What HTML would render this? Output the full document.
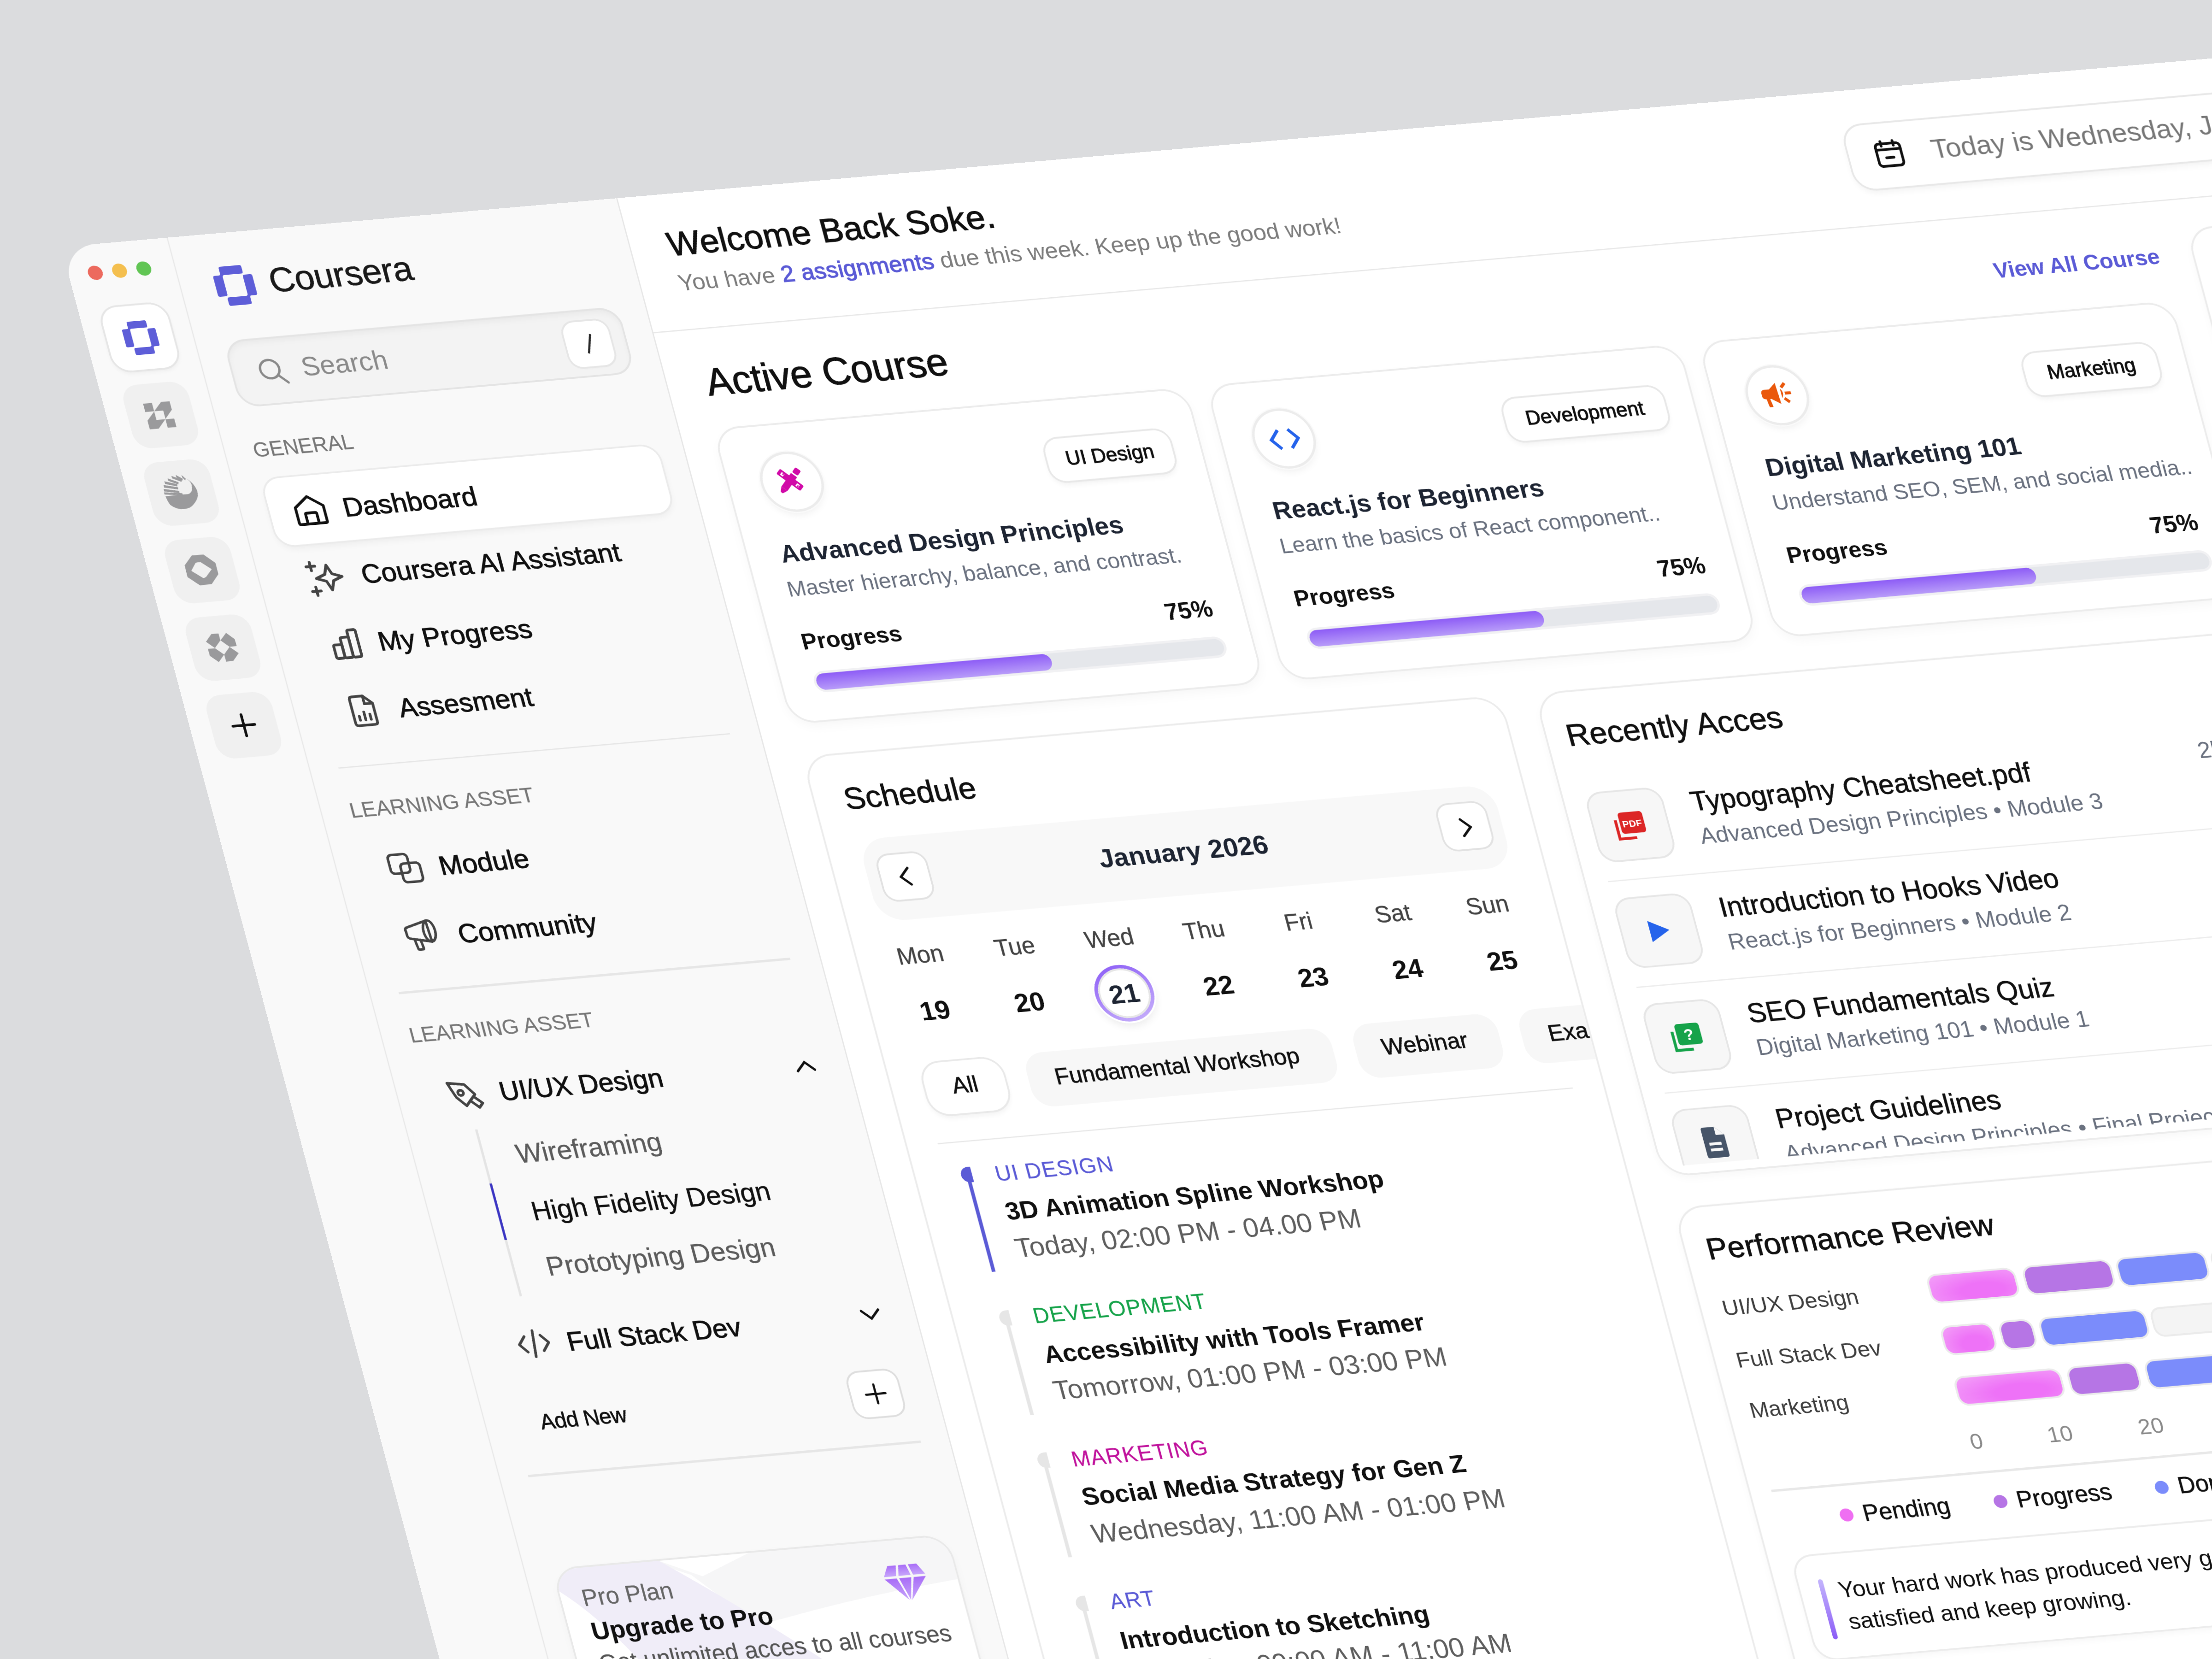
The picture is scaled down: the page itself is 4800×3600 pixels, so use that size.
<!DOCTYPE html>
<html><head><meta charset="utf-8"><title>Coursera Dashboard</title>
<style>
html,body{margin:0;padding:0;}
body{width:4800px;height:3600px;overflow:hidden;background:#dbdcde;font-family:"Liberation Sans",sans-serif;position:relative;}
#win{position:absolute;left:0;top:0;width:1900px;height:1400px;background:#f9f9f9;border-radius:28px;overflow:hidden;will-change:transform;transform-origin:0 0;transform:matrix(2.6299152,-0.2306568,0.6833112,2.5500288,132.6,535.9);}
.a{position:absolute;}
.t{position:absolute;line-height:1;white-space:nowrap;}
svg{overflow:visible;}
</style></head><body>
<div id="win">
<div class="a" style="left:458.0px;top:0.0px;width:1442.0px;height:1400.0px;background:#ffffff;"></div>
<div class="a" style="left:86.5px;top:0.0px;width:1.5px;height:1400.0px;background:#e9e9e9;"></div>
<div class="a" style="left:457.5px;top:0.0px;width:1.5px;height:1400.0px;background:#e6e6e6;"></div>
<div class="a" style="left:16.3px;top:17.9px;width:12.2px;height:12.2px;background:#ec6a5e;border-radius:50%;"></div>
<div class="a" style="left:36.3px;top:17.9px;width:12.2px;height:12.2px;background:#f4bf4f;border-radius:50%;"></div>
<div class="a" style="left:56.3px;top:17.9px;width:12.2px;height:12.2px;background:#61c554;border-radius:50%;"></div>
<div class="a" style="left:17.0px;top:54.0px;width:54.0px;height:54.0px;background:#ffffff;border-radius:14px;box-shadow:0 0 0 1.5px #e6e6e6,0 2px 4px rgba(0,0,0,0.06);"></div>
<div class="a" style="left:17.0px;top:120.0px;width:54.0px;height:54.0px;background:#f0f0f0;border-radius:14px;"></div>
<div class="a" style="left:17.0px;top:186.0px;width:54.0px;height:54.0px;background:#f0f0f0;border-radius:14px;"></div>
<div class="a" style="left:17.0px;top:252.0px;width:54.0px;height:54.0px;background:#f0f0f0;border-radius:14px;"></div>
<div class="a" style="left:17.0px;top:318.0px;width:54.0px;height:54.0px;background:#f0f0f0;border-radius:14px;"></div>
<div class="a" style="left:17.0px;top:384.0px;width:54.0px;height:54.0px;background:#f0f0f0;border-radius:14px;"></div>
<svg class="a" style="left:30.8px;top:66.8px" width="27.3" height="28.5" viewBox="0 0 32 33.4"><g fill="#5e5ed8"><path d="M6.3 1.6 Q6.3 0 7.9 0 L23.4 0 Q25 0 25 1.6 L25 5.6 Q25 7.2 23.4 7.2 L9.6 7.2 Q7.8 7.2 7.8 9 L7.8 23.4 Q7.8 25 6.2 25 L1.6 25 Q0 25 0 23.4 L0 8.8 Q0 7.2 1.6 7.2 L5 7.2 Q6.3 7.2 6.3 5.9 Z"/><path d="M6.3 1.6 Q6.3 0 7.9 0 L23.4 0 Q25 0 25 1.6 L25 5.6 Q25 7.2 23.4 7.2 L9.6 7.2 Q7.8 7.2 7.8 9 L7.8 23.4 Q7.8 25 6.2 25 L1.6 25 Q0 25 0 23.4 L0 8.8 Q0 7.2 1.6 7.2 L5 7.2 Q6.3 7.2 6.3 5.9 Z" transform="rotate(180 16 16.7)"/></g></svg>
<svg class="a" style="left:30.0px;top:133.0px" width="28.0" height="28.0" viewBox="0 0 28 28"><g fill="#9a9a9c"><polygon points="2.2,3.3 9.5,3.3 9.5,10.4 2.2,10.4"/><polygon points="9.6,10.4 17,3.2 24.1,3.2 24.1,10.4 17,17.6 17,10.5"/><polygon points="9.5,10.6 9.5,17.8 16.8,17.9 9.5,25.1 2.1,25.1 2.1,17.8"/><polygon points="16.9,17.9 24.1,17.9 24.1,25.1 16.9,25.1"/></g></svg>
<svg class="a" style="left:30.0px;top:199.0px" width="28.0" height="28.0" viewBox="0 0 28 28"><g fill="#9a9a9c"><path d="M0.3 15.9 Q0.8 21 2.4 23.5 Q6 27.5 12 27.9 Q18 28 21.4 24.5 Q25 21.5 26.5 17.9 Q27.5 14 26.4 10.8 Q25 6 21.2 2.9 Q24.5 6.5 23.7 9.1 Q23.5 12 22.1 14 Q20.5 15.6 18.9 15.8 L14.1 15.7 Z"/><polygon points="1.1,6.4 12.4,9.3 12,11.1 1.1,8.6"/><polygon points="0.3,9.6 12.6,12.5 12.2,14.3 0.3,11.8"/><polygon points="2.6,3.4 12.5,6.7 11.9,8.6 2.6,5.6"/><polygon points="5.9,1.2 13.9,5.2 13.2,7 5.9,3.3"/><polygon points="9.5,-0.6 17.1,3.4 16.3,5.1 9.5,1.5"/><polygon points="13.1,-1.1 18.1,2.6 17.2,4.1 13.1,1.1"/><polygon points="17.8,-0.7 20.4,2.8 19.6,4.2 17.8,1.3"/><polygon points="-0.1,12.6 14.5,14.5 14.5,16.3 -0.1,14.4"/></g></svg>
<svg class="a" style="left:30.0px;top:265.0px" width="28.0" height="28.0" viewBox="0 0 28 28"><path fill="#9a9a9c" fill-rule="evenodd" d="M8.7 1 L18.3 1.1 L26.2 9 L26.1 18.5 L18.6 26.3 L8.9 26.5 L0.6 18.7 L0.8 8.8 Z M10.1 7.5 Q12 6.8 14.3 7.2 L21.8 13.9 L15.9 19.7 Q14.5 20.8 12.9 20.5 L5 13.8 Z"/></svg>
<svg class="a" style="left:30.0px;top:331.0px" width="28.0" height="28.0" viewBox="0 0 28 28"><g fill="#9a9a9c"><polygon points="1.5,7.8 7.5,1.8 13.4,1.9 13.4,7.7 7.4,13.7"/><polygon points="13.5,7.7 19.6,1.9 25.2,7.7 25.4,13.6 19.4,13.7"/><polygon points="19.4,13.8 25.4,19.7 19.4,25.7 13.5,25.8 13.4,19.8"/><polygon points="7.4,13.9 13.4,19.8 7.5,25.6 1.6,19.9 1.5,13.9"/></g></svg>
<svg class="a" style="left:30.0px;top:397.0px" width="28.0" height="28.0" viewBox="0 0 28 28"><g stroke="#111" stroke-width="2.2" stroke-linecap="round"><line x1="14" y1="5" x2="14" y2="23"/><line x1="5" y1="14" x2="23" y2="14"/></g></svg>
<svg class="a" style="left:116.0px;top:28.0px" width="32.0" height="33.4" viewBox="0 0 32 33.4"><g fill="#5e5ed8"><path d="M6.3 1.6 Q6.3 0 7.9 0 L23.4 0 Q25 0 25 1.6 L25 5.6 Q25 7.2 23.4 7.2 L9.6 7.2 Q7.8 7.2 7.8 9 L7.8 23.4 Q7.8 25 6.2 25 L1.6 25 Q0 25 0 23.4 L0 8.8 Q0 7.2 1.6 7.2 L5 7.2 Q6.3 7.2 6.3 5.9 Z"/><path d="M6.3 1.6 Q6.3 0 7.9 0 L23.4 0 Q25 0 25 1.6 L25 5.6 Q25 7.2 23.4 7.2 L9.6 7.2 Q7.8 7.2 7.8 9 L7.8 23.4 Q7.8 25 6.2 25 L1.6 25 Q0 25 0 23.4 L0 8.8 Q0 7.2 1.6 7.2 L5 7.2 Q6.3 7.2 6.3 5.9 Z" transform="rotate(180 16 16.7)"/></g></svg>
<div class="t " style="left:160.5px;top:28.5px;font-size:29px;color:#1a1a1a;-webkit-text-stroke:0.3px #1a1a1a;letter-spacing:-0.2px;">Coursera</div>
<div class="a" style="left:110.0px;top:90.0px;width:325.6px;height:57.0px;background:#f3f3f3;border-radius:17px;box-shadow:inset 0 0 0 1.5px #e4e4e4, inset 0 3px 6px rgba(0,0,0,0.05);"></div>
<svg class="a" style="left:131.2px;top:105.5px" width="25.9" height="25.9" viewBox="0 0 24 24"><g fill="none" stroke="#8a8a8a" stroke-width="1.8"><circle cx="10" cy="10" r="7.2"/><line x1="15.3" y1="15.3" x2="21.5" y2="21.5" stroke-linecap="round"/></g></svg>
<div class="t " style="left:168.0px;top:107.1px;font-size:22.3px;color:#8a8a8a;">Search</div>
<div class="a" style="left:386.0px;top:100.0px;width:37.0px;height:38.0px;background:#fff;border-radius:10px;box-shadow:0 0 0 1.5px #e6e6e6,0 1px 2px rgba(0,0,0,.05);"></div>
<svg class="a" style="left:398.8px;top:108.5px" width="12.0" height="20.0" viewBox="0 0 12 20"><line x1="8.6" y1="2" x2="3.6" y2="18" stroke="#2a2a2a" stroke-width="1.7"/></svg>
<div class="t " style="left:111.0px;top:174.9px;font-size:17.2px;color:#777;-webkit-text-stroke:0.1px #777;">GENERAL</div>
<div class="a" style="left:111.0px;top:207.5px;width:326.0px;height:57.5px;background:#ffffff;border-radius:14px;box-shadow:0 0 0 1.5px #ebebeb,0 3px 6px rgba(0,0,0,0.05);"></div>
<svg class="a" style="left:129.1px;top:222.1px" width="29.9" height="29.9" viewBox="0 0 26 26"><g fill="none" stroke="#111" stroke-width="2" stroke-linejoin="round"><path d="M3 10.5 L13 3 L23 10.5 L23 22 Q23 23 22 23 L4 23 Q3 23 3 22 Z"/><path d="M9 23 L9 16 Q9 15 10 15 L16 15 Q17 15 17 16 L17 23"/></g></svg>
<div class="t " style="left:171.0px;top:226.5px;font-size:22.5px;color:#111111;-webkit-text-stroke:0.45px #111111;">Dashboard</div>
<svg class="a" style="left:126.1px;top:277.6px" width="32.8" height="32.8" viewBox="0 0 28 28"><g fill="none" stroke="#444" stroke-width="2" stroke-linecap="round" stroke-linejoin="round" stroke-width="1.8"><path d="M16 5 L18.5 11.5 L25 14 L18.5 16.5 L16 23 L13.5 16.5 L7 14 L13.5 11.5 Z"/><path d="M5 2 v6 M2 5 h6 M5 20 v6 M2 23 h6"/></g></svg>
<div class="t " style="left:171.5px;top:283.6px;font-size:22.3px;color:#111111;-webkit-text-stroke:0.45px #111111;">Coursera AI Assistant</div>
<svg class="a" style="left:130.1px;top:336.1px" width="29.9" height="29.9" viewBox="0 0 26 26"><g fill="none" stroke="#444" stroke-width="2" stroke-linecap="round" stroke-linejoin="round" stroke-width="1.8"><rect x="3" y="13" width="6" height="10" rx="1"/><rect x="9" y="8" width="6" height="15" rx="1"/><rect x="15" y="3" width="6" height="20" rx="1"/></g></svg>
<div class="t " style="left:170.5px;top:340.5px;font-size:22.5px;color:#111111;-webkit-text-stroke:0.45px #111111;">My Progress</div>
<svg class="a" style="left:129.4px;top:393.4px" width="29.1" height="29.1" viewBox="0 0 26 26"><g fill="none" stroke="#444" stroke-width="2" stroke-linecap="round" stroke-linejoin="round"><path d="M5 4 Q5 2 7 2 L15 2 L21 8 L21 22 Q21 24 19 24 L7 24 Q5 24 5 22 Z"/><path d="M15 2 L15 8 L21 8"/><path d="M9 20 v-3 M13 20 v-6 M17 20 v-4"/></g></svg>
<div class="t " style="left:172.5px;top:398.3px;font-size:22.3px;color:#111111;-webkit-text-stroke:0.45px #111111;">Assesment</div>
<div class="a" style="left:111.0px;top:452.5px;width:323.0px;height:1.5px;background:#e6e6e6;"></div>
<div class="t " style="left:111.0px;top:481.6px;font-size:17.6px;color:#777;-webkit-text-stroke:0.1px #777;">LEARNING ASSET</div>
<svg class="a" style="left:128.8px;top:527.2px" width="29.7" height="29.7" viewBox="0 0 28 28"><g fill="none" stroke="#444" stroke-width="2" stroke-linecap="round" stroke-linejoin="round"><rect x="2" y="2.5" width="15" height="15" rx="3"/><rect x="10" y="10" width="15" height="15" rx="3"/></g></svg>
<div class="t " style="left:171.0px;top:532.1px;font-size:22.5px;color:#111111;-webkit-text-stroke:0.45px #111111;">Module</div>
<svg class="a" style="left:127.2px;top:583.2px" width="31.5" height="31.5" viewBox="0 0 30 30"><g fill="none" stroke="#444" stroke-width="2" stroke-linecap="round" stroke-linejoin="round"><path d="M3 11 Q2 8 5 7.5 L20 3.5 L21 20.5 L6 17 Q3 16.5 3 14 Z"/><ellipse cx="21" cy="12" rx="4.5" ry="8.5"/><path d="M8 17.5 L9 25 Q9 26 10 26 L12.5 26 Q13.5 26 13.3 25 L12.5 18.5"/></g></svg>
<div class="t " style="left:171.8px;top:589.5px;font-size:22.5px;color:#111111;-webkit-text-stroke:0.45px #111111;">Community</div>
<div class="a" style="left:111.0px;top:644.0px;width:323.0px;height:1.5px;background:#e6e6e6;"></div>
<div class="t " style="left:110.5px;top:672.6px;font-size:17.6px;color:#777;-webkit-text-stroke:0.1px #777;">LEARNING ASSET</div>
<svg class="a" style="left:127.0px;top:719.1px" width="31.4" height="29.1" viewBox="0 0 28 26"><g fill="none" stroke="#444" stroke-width="2" stroke-linecap="round" stroke-linejoin="round"><path d="M3 4 L15 6 L21 14 L13 22 L7 15 Z"/><circle cx="11" cy="12" r="2"/><path d="M17 19 L22 24 L25 21 L20 16"/></g></svg>
<div class="t " style="left:171.0px;top:724.2px;font-size:22.2px;color:#111111;-webkit-text-stroke:0.45px #111111;">UI/UX Design</div>
<svg class="a" style="left:414.0px;top:729.0px" width="18.0" height="12.0" viewBox="0 0 18 12"><path d="M2 10 L9 3 L16 10" fill="none" stroke="#111" stroke-width="2" stroke-linecap="round"/></svg>
<div class="a" style="left:143.2px;top:764.0px;width:1.5px;height:142.0px;background:#e4e4e4;"></div>
<div class="a" style="left:142.8px;top:810.0px;width:2.4px;height:48.0px;background:#3b35c3;"></div>
<div class="t " style="left:171.0px;top:777.4px;font-size:22.2px;color:#5c5c5c;-webkit-text-stroke:0.15px #5c5c5c;">Wireframing</div>
<div class="t " style="left:171.0px;top:825.5px;font-size:22.1px;color:#111111;-webkit-text-stroke:0.25px #111111;">High Fidelity Design</div>
<div class="t " style="left:171.0px;top:873.3px;font-size:22.3px;color:#5c5c5c;-webkit-text-stroke:0.15px #5c5c5c;">Prototyping Design</div>
<svg class="a" style="left:128.6px;top:932.3px" width="30.8" height="28.6" viewBox="0 0 28 26"><g fill="none" stroke="#444" stroke-width="2" stroke-linecap="round" stroke-linejoin="round"><path d="M8 7 L3 13 L8 19 M20 7 L25 13 L20 19 M15 3 L13 23"/></g></svg>
<div class="t " style="left:171.5px;top:936.7px;font-size:22.2px;color:#111111;-webkit-text-stroke:0.45px #111111;">Full Stack Dev</div>
<svg class="a" style="left:413.0px;top:940.0px" width="18.0" height="12.0" viewBox="0 0 18 12"><path d="M2 3 L9 10 L16 3" fill="none" stroke="#111" stroke-width="2" stroke-linecap="round"/></svg>
<div class="t " style="left:132.3px;top:1002.8px;font-size:18px;color:#111111;-webkit-text-stroke:0.3px #111111;letter-spacing:-0.3px;">Add New</div>
<div class="a" style="left:389.0px;top:994.0px;width:40.0px;height:38.0px;background:#fff;border-radius:10px;box-shadow:0 0 0 1.5px #dedede;"></div>
<svg class="a" style="left:399.0px;top:1003.0px" width="20.0" height="20.0" viewBox="0 0 20 20"><g stroke="#111" stroke-width="1.8" stroke-linecap="round"><line x1="10" y1="2" x2="10" y2="18"/><line x1="2" y1="10" x2="18" y2="10"/></g></svg>
<div class="a" style="left:111.0px;top:1055.0px;width:324.0px;height:1.5px;background:#e6e6e6;"></div>
<div class="a" style="left:111px;top:1136px;width:324px;height:220px;border-radius:20px;overflow:hidden;background:#ffffff;box-shadow:0 0 0 1.5px #e9e9e9,0 3px 8px rgba(0,0,0,0.04);"><svg class="a" style="left:0;top:0" width="324" height="220" viewBox="0 0 324 220"><path fill="#f6f6f7" d="M80 0 L324 0 L324 37 Q240 44 154 61 L110 14 Z"/><path fill="#f0edf8" d="M0 0 L87 0 Q145 45 197 93 Q225 125 240 160 L150 220 L90 220 Q60 120 49 80 Q25 40 0 18 Z"/><path fill="#ffffff" d="M87 0 L161 0 L119 16 Z"/></svg></div>
<div class="t " style="left:128.0px;top:1152.0px;font-size:19.5px;color:#666;-webkit-text-stroke:0.1px #666;">Pro Plan</div>
<div class="t " style="left:128.5px;top:1180.3px;font-size:20.7px;color:#111111;font-weight:700;">Upgrade to Pro</div>
<div class="t " style="left:128.0px;top:1207.6px;font-size:19.4px;color:#555;-webkit-text-stroke:0.1px #555;">Get unlimited acces to all courses</div>
<svg class="a" style="left:375.0px;top:1156.0px" width="36.0" height="32.0" viewBox="0 0 36 32"><defs><linearGradient id="dg" x1="0" y1="0" x2="0" y2="1"><stop offset="0" stop-color="#a96df7"/><stop offset="1" stop-color="#c7a6fb"/></linearGradient></defs><g fill="url(#dg)"><polygon points="6,1 13,1 11,10 1,10"/><polygon points="15,1 21,1 23,10 13,10"/><polygon points="23,1 30,1 35,10 25,10"/><polygon points="1,12 11,12 17,31"/><polygon points="13,12 23,12 18,31"/><polygon points="25,12 35,12 19,31"/></g></svg>
<div class="t " style="left:489.5px;top:27.5px;font-size:28.4px;color:#111111;-webkit-text-stroke:0.5px #111111;">Welcome Back Soke.</div>
<div class="t" style="left:490px;top:65.7px;font-size:19.2px;color:#7d7d7d;">You have <span style="color:#5b5bd6;font-size:19.2px;-webkit-text-stroke:0.55px #5b5bd6;letter-spacing:0.15px">2 assignments</span> due this week. Keep up the good work!</div>
<div class="a" style="left:1461.0px;top:30.0px;width:520.0px;height:54.0px;background:#fff;border-radius:16px;box-shadow:0 0 0 1.5px #e8e8e8,0 3px 6px rgba(0,0,0,0.06);"></div>
<svg class="a" style="left:1480.4px;top:42.4px" width="28.0" height="28.0" viewBox="0 0 28 28"><g fill="none" stroke="#111" stroke-width="2.2" stroke-linecap="round" stroke-linejoin="round"><rect x="4" y="5" width="20" height="19" rx="3"/><path d="M4 10 H24 M9 3 v4 M19 3 v4 M11 17 H17"/></g></svg>
<div class="t " style="left:1529.0px;top:44.3px;font-size:22.7px;color:#777;">Today is Wednesday, January 21, 2026</div>
<div class="a" style="left:458.0px;top:113.5px;width:1442.0px;height:1.5px;background:#e8e8e8;"></div>
<div class="t " style="left:490.5px;top:143.9px;font-size:32px;color:#111111;-webkit-text-stroke:0.5px #111111;">Active Course</div>
<div class="t " style="left:1553.0px;top:152.1px;font-size:18.2px;color:#5b5bd6;font-weight:700;">View All Course</div>
<div class="a" style="left:1718.0px;top:141.0px;width:400.0px;height:1400.0px;background:#fff;border-radius:20px;box-shadow:0 0 0 1.5px #ececec,0 3px 8px rgba(0,0,0,0.04);"></div>
<div class="a" style="left:487.0px;top:200.0px;width:388.0px;height:249.0px;background:#fff;border-radius:20px;box-shadow:0 0 0 1.5px #ececec,0 4px 10px rgba(0,0,0,0.04);"></div>
<div class="a" style="left:514.5px;top:225.0px;width:47.0px;height:47.0px;background:#fff;border-radius:50%;box-shadow:0 0 0 2px #ececec,0 0 0 3px #fafafa,0 4px 7px rgba(0,0,0,0.07);"></div>
<svg class="a" style="left:524.0px;top:234.5px" width="28" height="28" viewBox="-14 -14 28 28"><g fill="#d10aa8"><g transform="translate(-0.6 -2.2) rotate(46)"><rect x="-11.2" y="-2.8" width="22.4" height="5.6" rx="1.2"/><rect x="-8.6" y="-1.3" width="2.6" height="2.8" fill="#fff"/><rect x="5.8" y="-1.3" width="2.6" height="2.8" fill="#fff"/><rect x="-7.4" y="-1.3" width="1.1" height="1.6"/><rect x="7" y="-0.3" width="1.1" height="1.6"/></g><g transform="translate(3.55 -5.85) rotate(135)"><rect x="0" y="-2.85" width="15" height="5.7"/><polygon points="15,-2.85 19.3,-1 19.3,1 15,2.85"/><rect x="-6.6" y="-2.6" width="5.3" height="5.2" rx="1.2"/></g></g></svg>
<div class="a" style="left:749.0px;top:231.5px;width:103.0px;height:36.0px;background:#fff;border-radius:12px;box-shadow:0 0 0 1.5px #e8e8e8,0 3px 5px rgba(0,0,0,0.06);"></div>
<div class="t" style="left:650.5px;width:300px;text-align:center;top:241.0px;font-size:16.5px;color:#111;-webkit-text-stroke:0.45px #111;">UI Design</div>
<div class="t " style="left:513.5px;top:297.2px;font-size:21px;color:#1e2533;font-weight:700;">Advanced Design Principles</div>
<div class="t " style="left:511.5px;top:328.5px;font-size:18.3px;color:#6b7280;">Master hierarchy, balance, and contrast.</div>
<div class="t " style="left:511.6px;top:373.4px;font-size:19px;color:#111111;font-weight:700;">Progress</div>
<div class="t" style="right:1050.0px;top:374.5px;font-size:19.5px;color:#111111;font-weight:700;">75%</div>
<div class="a" style="left:515.0px;top:410.0px;width:336.0px;height:14.0px;background:#e5e7eb;border-radius:8px;box-shadow:0 0 0 2px #f1f1f3;"></div>
<div class="a" style="left:515.0px;top:410.0px;width:194.1px;height:14.0px;background:linear-gradient(180deg,#8d5cf6 0%,#b89cf9 100%);border-radius:8px;"></div>
<div class="a" style="left:893.5px;top:200.0px;width:388.0px;height:249.0px;background:#fff;border-radius:20px;box-shadow:0 0 0 1.5px #ececec,0 4px 10px rgba(0,0,0,0.04);"></div>
<div class="a" style="left:921.0px;top:225.0px;width:47.0px;height:47.0px;background:#fff;border-radius:50%;box-shadow:0 0 0 2px #ececec,0 0 0 3px #fafafa,0 4px 7px rgba(0,0,0,0.07);"></div>
<svg class="a" style="left:931.5px;top:237.5px" width="26.0" height="22.0" viewBox="0 0 26 22"><g fill="none" stroke="#2563eb" stroke-width="2.6" stroke-linecap="square"><path d="M8 4 L2 11 L8 18 M18 4 L24 11 L18 18"/></g></svg>
<div class="a" style="left:1126.5px;top:231.5px;width:132.0px;height:36.0px;background:#fff;border-radius:12px;box-shadow:0 0 0 1.5px #e8e8e8,0 3px 5px rgba(0,0,0,0.06);"></div>
<div class="t" style="left:1042.5px;width:300px;text-align:center;top:241.0px;font-size:16.5px;color:#111;-webkit-text-stroke:0.45px #111;">Development</div>
<div class="t " style="left:920.0px;top:297.2px;font-size:21px;color:#1e2533;font-weight:700;">React.js for Beginners</div>
<div class="t " style="left:918.0px;top:328.5px;font-size:18.3px;color:#6b7280;">Learn the basics of React component..</div>
<div class="t " style="left:918.1px;top:373.4px;font-size:19px;color:#111111;font-weight:700;">Progress</div>
<div class="t" style="right:643.5px;top:374.5px;font-size:19.5px;color:#111111;font-weight:700;">75%</div>
<div class="a" style="left:921.5px;top:410.0px;width:336.0px;height:14.0px;background:#e5e7eb;border-radius:8px;box-shadow:0 0 0 2px #f1f1f3;"></div>
<div class="a" style="left:921.5px;top:410.0px;width:193.2px;height:14.0px;background:linear-gradient(180deg,#8d5cf6 0%,#b89cf9 100%);border-radius:8px;"></div>
<div class="a" style="left:1300.0px;top:200.0px;width:388.0px;height:249.0px;background:#fff;border-radius:20px;box-shadow:0 0 0 1.5px #ececec,0 4px 10px rgba(0,0,0,0.04);"></div>
<div class="a" style="left:1327.5px;top:225.0px;width:47.0px;height:47.0px;background:#fff;border-radius:50%;box-shadow:0 0 0 2px #ececec,0 0 0 3px #fafafa,0 4px 7px rgba(0,0,0,0.07);"></div>
<svg class="a" style="left:1337.0px;top:235.5px" width="28.0" height="26.0" viewBox="0 0 28 26"><g fill="#ea580c"><path d="M2 10 Q2 7 5 7 L9 7 L15 2 L16 20 L9 15 L8 15 L9 22 L6 22 L5 15 Q2 15 2 12 Z"/><path d="M18 7 Q21 11 18 15 Z"/><rect x="20" y="2" width="2.5" height="5" transform="rotate(45 21 4)"/><rect x="21" y="10" width="5" height="2.5"/><rect x="20" y="15" width="2.5" height="5" transform="rotate(-45 21 17)"/></g></svg>
<div class="a" style="left:1556.0px;top:231.5px;width:109.0px;height:36.0px;background:#fff;border-radius:12px;box-shadow:0 0 0 1.5px #e8e8e8,0 3px 5px rgba(0,0,0,0.06);"></div>
<div class="t" style="left:1460.5px;width:300px;text-align:center;top:241.0px;font-size:16.5px;color:#111;-webkit-text-stroke:0.45px #111;">Marketing</div>
<div class="t " style="left:1326.5px;top:297.2px;font-size:21px;color:#1e2533;font-weight:700;">Digital Marketing 101</div>
<div class="t " style="left:1324.5px;top:328.5px;font-size:18.3px;color:#6b7280;">Understand SEO, SEM, and social media..</div>
<div class="t " style="left:1324.6px;top:373.4px;font-size:19px;color:#111111;font-weight:700;">Progress</div>
<div class="t" style="right:237.0px;top:374.5px;font-size:19.5px;color:#111111;font-weight:700;">75%</div>
<div class="a" style="left:1328.0px;top:410.0px;width:336.0px;height:14.0px;background:#e5e7eb;border-radius:8px;box-shadow:0 0 0 2px #f1f1f3;"></div>
<div class="a" style="left:1328.0px;top:410.0px;width:193.2px;height:14.0px;background:linear-gradient(180deg,#8d5cf6 0%,#b89cf9 100%);border-radius:8px;"></div>
<div class="a" style="left:488.0px;top:479.0px;width:574.0px;height:1100.0px;background:#fff;border-radius:22px;box-shadow:0 0 0 1.5px #ececec;"></div>
<div class="t " style="left:512.0px;top:503.0px;font-size:26px;color:#111111;-webkit-text-stroke:0.35px #111111;">Schedule</div>
<div class="a" style="left:514.0px;top:550.5px;width:523.0px;height:70.0px;background:#f8f8f8;border-radius:22px;"></div>
<div class="a" style="left:525.0px;top:565.5px;width:39.0px;height:38.0px;background:#fff;border-radius:10px;box-shadow:0 0 0 1.5px #e2e2e2;"></div>
<svg class="a" style="left:536.5px;top:575.5px" width="16.0" height="18.0" viewBox="0 0 16 18"><path d="M11 2 L4 9 L11 16" fill="none" stroke="#111" stroke-width="2" stroke-linecap="round"/></svg>
<div class="a" style="left:987.0px;top:565.0px;width:39.0px;height:38.0px;background:#fff;border-radius:10px;box-shadow:0 0 0 1.5px #e2e2e2;"></div>
<svg class="a" style="left:998.5px;top:575.5px" width="16.0" height="18.0" viewBox="0 0 16 18"><path d="M5 2 L12 9 L5 16" fill="none" stroke="#111" stroke-width="2" stroke-linecap="round"/></svg>
<div class="t" style="left:624.0px;width:300px;text-align:center;top:573.9px;font-size:22px;color:#1e2533;font-weight:700;">January 2026</div>
<div class="t" style="left:389.6px;width:300px;text-align:center;top:641.5px;font-size:19.5px;color:#444;-webkit-text-stroke:0.15px #444;">Mon</div>
<div class="t" style="left:389.6px;width:300px;text-align:center;top:687.9px;font-size:22px;color:#111111;font-weight:700;">19</div>
<div class="t" style="left:467.6px;width:300px;text-align:center;top:641.5px;font-size:19.5px;color:#444;-webkit-text-stroke:0.15px #444;">Tue</div>
<div class="t" style="left:467.6px;width:300px;text-align:center;top:687.9px;font-size:22px;color:#111111;font-weight:700;">20</div>
<div class="t" style="left:545.6px;width:300px;text-align:center;top:641.5px;font-size:19.5px;color:#444;-webkit-text-stroke:0.15px #444;">Wed</div>
<div class="t" style="left:545.6px;width:300px;text-align:center;top:687.9px;font-size:22px;color:#111111;font-weight:700;">21</div>
<div class="t" style="left:623.6px;width:300px;text-align:center;top:641.5px;font-size:19.5px;color:#444;-webkit-text-stroke:0.15px #444;">Thu</div>
<div class="t" style="left:623.6px;width:300px;text-align:center;top:687.9px;font-size:22px;color:#111111;font-weight:700;">22</div>
<div class="t" style="left:701.6px;width:300px;text-align:center;top:641.5px;font-size:19.5px;color:#444;-webkit-text-stroke:0.15px #444;">Fri</div>
<div class="t" style="left:701.6px;width:300px;text-align:center;top:687.9px;font-size:22px;color:#111111;font-weight:700;">23</div>
<div class="t" style="left:779.6px;width:300px;text-align:center;top:641.5px;font-size:19.5px;color:#444;-webkit-text-stroke:0.15px #444;">Sat</div>
<div class="t" style="left:779.6px;width:300px;text-align:center;top:687.9px;font-size:22px;color:#111111;font-weight:700;">24</div>
<div class="t" style="left:857.6px;width:300px;text-align:center;top:641.5px;font-size:19.5px;color:#444;-webkit-text-stroke:0.15px #444;">Sun</div>
<div class="t" style="left:857.6px;width:300px;text-align:center;top:687.9px;font-size:22px;color:#111111;font-weight:700;">25</div>
<div class="a" style="left:671.8px;top:674.0px;width:48.0px;height:48.0px;border-radius:50%;background:linear-gradient(#fff,#fff) padding-box,linear-gradient(160deg,#8b5cf6,#c9b3fb) border-box;border:3px solid transparent;box-sizing:border-box;box-shadow:inset 0 0 0 1.5px #e6e6e6,0 0 0 1.5px #fff,0 4px 7px rgba(0,0,0,0.08);"></div>
<div class="t" style="left:545.8px;width:300px;text-align:center;top:687.9px;font-size:22px;color:#1e2533;font-weight:700;">21</div>
<div class="a" style="left:488px;top:730px;width:574px;height:70px;overflow:hidden;">
<div class="a" style="left:27.0px;top:11px;width:66.0px;height:46px;border-radius:16px;background:#fff;box-shadow:0 0 0 1.5px #e9e9e9,0 3px 5px rgba(0,0,0,0.06);top:12px;height:44px;"></div>
<div class="a" style="left:112.0px;top:11px;width:252.0px;height:46px;border-radius:16px;background:#f7f7f7;"></div>
<div class="a" style="left:382.0px;top:11px;width:119.0px;height:46px;border-radius:16px;background:#f7f7f7;"></div>
<div class="a" style="left:519.0px;top:11px;width:130.0px;height:46px;border-radius:16px;background:#f7f7f7;"></div>
<div class="t" style="left:49.0px;top:22.9px;font-size:19px;color:#111;-webkit-text-stroke:0.3px #111;">All</div>
<div class="t" style="left:134.0px;top:23.4px;font-size:19px;color:#111;-webkit-text-stroke:0.3px #111;">Fundamental Workshop</div>
<div class="t" style="left:404.0px;top:22.3px;font-size:19px;color:#111;-webkit-text-stroke:0.3px #111;">Webinar</div>
<div class="t" style="left:541.0px;top:23.3px;font-size:19px;color:#111;-webkit-text-stroke:0.3px #111;">Exam</div>
</div>
<div class="a" style="left:513.0px;top:808.5px;width:524.0px;height:1.5px;background:#e8e8e8;"></div>
<div class="a" style="left:528.5px;top:836.0px;width:3.5px;height:84.0px;background:#5b5bd6;"></div>
<div class="a" style="left:524.5px;top:831.0px;width:9.0px;height:13.0px;background:#5b5bd6;border-radius:9px 0 0 9px;"></div>
<div class="t " style="left:552.8px;top:829.6px;font-size:18px;color:#5b5bd6;-webkit-text-stroke:0.1px #5b5bd6;letter-spacing:0.6px;">UI DESIGN</div>
<div class="t " style="left:553.0px;top:860.2px;font-size:21px;color:#111111;font-weight:700;">3D Animation Spline Workshop</div>
<div class="t " style="left:553.0px;top:891.7px;font-size:22.6px;color:#5f5f5f;">Today, 02:00 PM - 04.00 PM</div>
<div class="a" style="left:528.5px;top:957.5px;width:3.5px;height:84.0px;background:#e6e6e6;"></div>
<div class="a" style="left:524.5px;top:952.5px;width:9.0px;height:13.0px;background:#e6e6e6;border-radius:9px 0 0 9px;"></div>
<div class="t " style="left:552.8px;top:951.1px;font-size:18px;color:#16a34a;-webkit-text-stroke:0.1px #16a34a;letter-spacing:0.6px;">DEVELOPMENT</div>
<div class="t " style="left:553.0px;top:981.7px;font-size:21px;color:#111111;font-weight:700;">Accessibility with Tools Framer</div>
<div class="t " style="left:553.0px;top:1013.2px;font-size:22.6px;color:#5f5f5f;">Tomorrow, 01:00 PM - 03:00 PM</div>
<div class="a" style="left:528.5px;top:1079.0px;width:3.5px;height:84.0px;background:#e6e6e6;"></div>
<div class="a" style="left:524.5px;top:1074.0px;width:9.0px;height:13.0px;background:#e6e6e6;border-radius:9px 0 0 9px;"></div>
<div class="t " style="left:552.8px;top:1072.6px;font-size:18px;color:#c0139c;-webkit-text-stroke:0.1px #c0139c;letter-spacing:0.6px;">MARKETING</div>
<div class="t " style="left:553.0px;top:1103.2px;font-size:21px;color:#111111;font-weight:700;">Social Media Strategy for Gen Z</div>
<div class="t " style="left:553.0px;top:1134.7px;font-size:22.6px;color:#5f5f5f;">Wednesday, 11:00 AM - 01:00 PM</div>
<div class="a" style="left:528.5px;top:1200.5px;width:3.5px;height:84.0px;background:#e6e6e6;"></div>
<div class="a" style="left:524.5px;top:1195.5px;width:9.0px;height:13.0px;background:#e6e6e6;border-radius:9px 0 0 9px;"></div>
<div class="t " style="left:552.8px;top:1194.1px;font-size:18px;color:#5b5bd6;-webkit-text-stroke:0.1px #5b5bd6;letter-spacing:0.6px;">ART</div>
<div class="t " style="left:553.0px;top:1224.7px;font-size:21px;color:#111111;font-weight:700;">Introduction to Sketching</div>
<div class="t " style="left:553.0px;top:1256.2px;font-size:22.6px;color:#5f5f5f;">Thursday, 09:00 AM - 11:00 AM</div>
<div class="a" style="left:1092.0px;top:480.0px;width:597.0px;height:409.0px;background:#fff;border-radius:22px;box-shadow:0 0 0 1.5px #ececec,0 3px 8px rgba(0,0,0,0.04);"></div>
<div class="t " style="left:1108.0px;top:503.0px;font-size:26px;color:#111111;-webkit-text-stroke:0.35px #111111;">Recently Acces</div>
<div class="t" style="right:228.0px;top:565.4px;font-size:19px;color:#6b7280;">2h ago</div>
<div class="a" style="left:1092px;top:545px;width:597px;height:337px;overflow:hidden;">
<div class="a" style="left:16.5px;top:19.6px;width:63px;height:60px;border-radius:14px;background:#f7f7f7;box-shadow:inset 0 0 0 1.5px #e6e6e6;"></div>
<svg class="a" style="left:33.0px;top:35.6px" width="30" height="28" viewBox="0 0 30 28"><g><path d="M4 9 L4 25 L18 25" fill="none" stroke="#dc2626" stroke-width="2.4"/><rect x="7" y="3" width="20" height="18" rx="2.5" fill="#dc2626"/><text x="17" y="15.5" font-size="8" font-weight="700" fill="#fff" text-anchor="middle" font-family="Liberation Sans">PDF</text></g></svg>
<div class="t" style="left:102px;top:24.3px;font-size:22.8px;color:#111;-webkit-text-stroke:0.3px #111;">Typography Cheatsheet.pdf</div>
<div class="t" style="left:102px;top:55.0px;font-size:19px;color:#6b7280;">Advanced Design Principles • Module 3</div>
<div class="a" style="left:18px;top:94.6px;width:600px;height:1.5px;background:#ececec;"></div>
<div class="a" style="left:16.5px;top:109.6px;width:63px;height:60px;border-radius:14px;background:#f7f7f7;box-shadow:inset 0 0 0 1.5px #e6e6e6;"></div>
<svg class="a" style="left:38.0px;top:128.6px" width="20" height="22" viewBox="0 0 20 22"><polygon points="3,2 19,11 3,20" fill="#2563eb"/></svg>
<div class="t" style="left:102px;top:114.3px;font-size:22.8px;color:#111;-webkit-text-stroke:0.3px #111;">Introduction to Hooks Video</div>
<div class="t" style="left:102px;top:145.0px;font-size:19px;color:#6b7280;">React.js for Beginners • Module 2</div>
<div class="a" style="left:18px;top:184.6px;width:600px;height:1.5px;background:#ececec;"></div>
<div class="a" style="left:16.5px;top:199.6px;width:63px;height:60px;border-radius:14px;background:#f7f7f7;box-shadow:inset 0 0 0 1.5px #e6e6e6;"></div>
<svg class="a" style="left:33.0px;top:215.6px" width="30" height="28" viewBox="0 0 30 28"><g><path d="M4 9 L4 25 L18 25" fill="none" stroke="#16a34a" stroke-width="2.4"/><rect x="7" y="3" width="20" height="18" rx="2.5" fill="#16a34a"/><text x="17" y="17" font-size="13" font-weight="700" fill="#fff" text-anchor="middle" font-family="Liberation Sans">?</text></g></svg>
<div class="t" style="left:102px;top:204.3px;font-size:22.8px;color:#111;-webkit-text-stroke:0.3px #111;">SEO Fundamentals Quiz</div>
<div class="t" style="left:102px;top:235.0px;font-size:19px;color:#6b7280;">Digital Marketing 101 • Module 1</div>
<div class="a" style="left:18px;top:274.6px;width:600px;height:1.5px;background:#ececec;"></div>
<div class="a" style="left:16.5px;top:289.6px;width:63px;height:60px;border-radius:14px;background:#f7f7f7;box-shadow:inset 0 0 0 1.5px #e6e6e6;"></div>
<svg class="a" style="left:36.0px;top:305.6px" width="24" height="28" viewBox="0 0 24 28"><g><path d="M3 3 Q3 1 5 1 L14 1 L21 8 L21 25 Q21 27 19 27 L5 27 Q3 27 3 25 Z" fill="#475569"/><path d="M14 1 L14 8 L21 8 Z" fill="#f7f7f7"/><rect x="7" y="14" width="10" height="2.4" fill="#f7f7f7"/><rect x="7" y="19" width="10" height="2.4" fill="#f7f7f7"/></g></svg>
<div class="t" style="left:102px;top:294.3px;font-size:22.8px;color:#111;-webkit-text-stroke:0.3px #111;">Project Guidelines</div>
<div class="t" style="left:102px;top:325.0px;font-size:19px;color:#6b7280;">Advanced Design Principles • Final Project</div>
</div>
<div class="a" style="left:1093.0px;top:918.0px;width:596.0px;height:500.0px;background:#fff;border-radius:22px;box-shadow:0 0 0 1.5px #ececec,0 3px 8px rgba(0,0,0,0.04);"></div>
<div class="t " style="left:1110.0px;top:941.4px;font-size:25.5px;color:#111111;-webkit-text-stroke:0.4px #111111;">Performance Review</div>
<div class="t " style="left:1110.0px;top:994.8px;font-size:18.5px;color:#3f3f3f;">UI/UX Design</div>
<div class="t " style="left:1110.0px;top:1038.8px;font-size:18.5px;color:#3f3f3f;">Full Stack Dev</div>
<div class="t " style="left:1110.0px;top:1082.2px;font-size:18.5px;color:#3f3f3f;">Marketing</div>
<div class="a" style="left:1282.0px;top:991.5px;width:70.0px;height:22.0px;background:radial-gradient(ellipse at 60% 70%,#ee72f7 30%,#f3a0f8 100%);border-radius:7px;box-shadow:0 0 0 1.6px #ebebeb;"></div>
<div class="a" style="left:1361.0px;top:991.5px;width:70.0px;height:22.0px;background:#b675e5;border-radius:7px;box-shadow:0 0 0 1.6px #ebebeb;"></div>
<div class="a" style="left:1438.0px;top:991.5px;width:71.0px;height:22.0px;background:#7b8cfb;border-radius:7px;box-shadow:0 0 0 1.6px #ebebeb;"></div>
<div class="a" style="left:1516.0px;top:991.5px;width:124.0px;height:22.0px;background:#f4f4f4;border-radius:7px;box-shadow:0 0 0 1.6px #ebebeb;"></div>
<div class="a" style="left:1282.0px;top:1035.5px;width:40.0px;height:22.0px;background:radial-gradient(ellipse at 60% 70%,#ee72f7 30%,#f3a0f8 100%);border-radius:7px;box-shadow:0 0 0 1.6px #ebebeb;"></div>
<div class="a" style="left:1330.0px;top:1035.5px;width:25.0px;height:22.0px;background:#b675e5;border-radius:7px;box-shadow:0 0 0 1.6px #ebebeb;"></div>
<div class="a" style="left:1363.0px;top:1035.5px;width:85.0px;height:22.0px;background:#7b8cfb;border-radius:7px;box-shadow:0 0 0 1.6px #ebebeb;"></div>
<div class="a" style="left:1455.0px;top:1035.5px;width:185.0px;height:22.0px;background:#f4f4f4;border-radius:7px;box-shadow:0 0 0 1.6px #ebebeb;"></div>
<div class="a" style="left:1282.0px;top:1079.0px;width:85.0px;height:22.0px;background:radial-gradient(ellipse at 60% 70%,#ee72f7 30%,#f3a0f8 100%);border-radius:7px;box-shadow:0 0 0 1.6px #ebebeb;"></div>
<div class="a" style="left:1375.0px;top:1079.0px;width:55.0px;height:22.0px;background:#b675e5;border-radius:7px;box-shadow:0 0 0 1.6px #ebebeb;"></div>
<div class="a" style="left:1439.0px;top:1079.0px;width:76.0px;height:22.0px;background:#7b8cfb;border-radius:7px;box-shadow:0 0 0 1.6px #ebebeb;"></div>
<div class="a" style="left:1522.0px;top:1079.0px;width:118.0px;height:22.0px;background:#f4f4f4;border-radius:7px;box-shadow:0 0 0 1.6px #ebebeb;"></div>
<div class="t" style="left:1136.0px;width:300px;text-align:center;top:1124.3px;font-size:18.5px;color:#8a8a8a;">0</div>
<div class="t" style="left:1205.0px;width:300px;text-align:center;top:1124.3px;font-size:18.5px;color:#8a8a8a;">10</div>
<div class="t" style="left:1280.0px;width:300px;text-align:center;top:1124.3px;font-size:18.5px;color:#8a8a8a;">20</div>
<div class="t" style="left:1353.0px;width:300px;text-align:center;top:1124.3px;font-size:18.5px;color:#8a8a8a;">30</div>
<div class="a" style="left:1110.0px;top:1158.0px;width:560.0px;height:1.5px;background:#e8e8e8;"></div>
<div class="a" style="left:1159.9px;top:1179.1px;width:11.0px;height:11.0px;background:#ef6ff2;border-radius:50%;"></div>
<div class="t " style="left:1179.1px;top:1174.5px;font-size:19.5px;color:#111111;-webkit-text-stroke:0.25px #111111;">Pending</div>
<div class="a" style="left:1286.8px;top:1179.1px;width:11.0px;height:11.0px;background:#b675e5;border-radius:50%;"></div>
<div class="t " style="left:1306.0px;top:1174.5px;font-size:19.5px;color:#111111;-webkit-text-stroke:0.25px #111111;">Progress</div>
<div class="a" style="left:1419.8px;top:1179.1px;width:11.0px;height:11.0px;background:#7b8cfb;border-radius:50%;"></div>
<div class="t " style="left:1439.0px;top:1174.5px;font-size:19.5px;color:#111111;-webkit-text-stroke:0.25px #111111;">Done</div>
<div class="a" style="left:1112.0px;top:1216.0px;width:558.0px;height:87.0px;background:#fff;border-radius:16px;box-shadow:0 0 0 1.5px #ececec,0 3px 6px rgba(0,0,0,0.04);"></div>
<div class="a" style="left:1128.0px;top:1236.0px;width:3.5px;height:51.0px;background:linear-gradient(#c4b5fd,#8b5cf6);border-radius:2px;"></div>
<div class="t " style="left:1143.0px;top:1236.7px;font-size:19.2px;color:#111111;">Your hard work has produced very good results, stay</div>
<div class="t " style="left:1144.0px;top:1264.0px;font-size:19.2px;color:#111111;">satisfied and keep growing.</div>
</div>
</body></html>
